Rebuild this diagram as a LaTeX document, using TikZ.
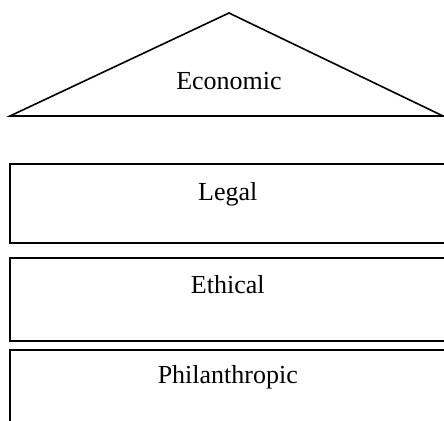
\documentclass[tikz,border=0pt]{standalone}
\usepackage{fontspec}
\setmainfont{Liberation Serif}
\usetikzlibrary{positioning}

\begin{document}
\begin{tikzpicture}
    [
    x = 1pt, y = -1pt,
    every node/.style = {font=\fontsize{26}{30}\selectfont},
    layer/.style      = {draw, line width=1.6pt, minimum width=436pt, inner sep=0pt, anchor=north west},
    title/.style      = {inner sep=0pt, anchor=base}
    ]
    \useasboundingbox (0,0) rectangle (444,420);
    % roof
    \coordinate (apex)  at (229,13);
    \coordinate (left)  at (10,116);
    \coordinate (right) at (443,116);
    \draw [line width=1.6pt] (left) -- (apex) -- (right) -- cycle;
    \node [title] (economic) at (229,89) {Economic};
    % layers
    \node [layer, minimum height=79pt] (legal)   at (9,163) {};
    \node [layer, minimum height=83pt] (ethical) at (9,257) {};
    \node [layer, minimum height=90pt] (philan)  at (9,349) {};
    \node [title, yshift=-37pt] (legaltext)   at (legal.north)   {Legal};
    \node [title, yshift=-36pt] (ethicaltext) at (ethical.north) {Ethical};
    \node [title, yshift=-34pt] (philantext)  at (philan.north)  {Philanthropic};
\end{tikzpicture}
\end{document}
